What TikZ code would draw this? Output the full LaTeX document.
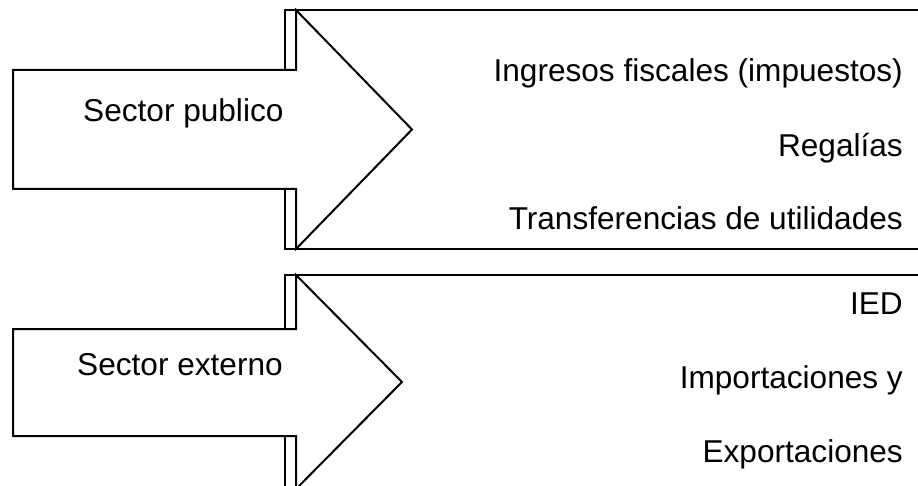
\documentclass[tikz,border=0pt]{standalone}
\usepackage{fontspec}
\setmainfont{Liberation Sans}
\begin{document}
\begin{tikzpicture}[x=1pt,y=-1pt,
  outline/.style={draw=black,line width=2pt,line join=miter,fill=white},
  frame/.style={draw=black,line width=2pt},
  txt/.style={font=\fontsize{31.6}{38}\selectfont,inner sep=0pt},
  ]
\useasboundingbox (0,0) rectangle (918,486);
\fill[white] (0,0) rectangle (918,486);
\clip (0,0) rectangle (918,486);

% --- public sector: list panel and block arrow
\draw[frame] (1000,10) -- (285,10) -- (285,249) -- (1000,249);
\draw[outline] (13,70) -- (296,70) -- (296,10) -- (412,129.5) -- (296,249)
  -- (296,189) -- (13,189) -- cycle;
\node[txt,anchor=base west] (pub) at (83,122) {Sector publico};
\node[txt,anchor=base east] (ing) at (903,82) {Ingresos fiscales (impuestos)};
\node[txt,anchor=base east] (reg) at (903,157) {Regalías};
\node[txt,anchor=base east] (tra) at (903,230) {Transferencias de utilidades};

% --- external sector: list panel and block arrow
\draw[frame] (1000,275) -- (285,275) -- (285,489) -- (1000,489);
\draw[outline] (13,329) -- (296,329) -- (296,275) -- (402,382) -- (296,489)
  -- (296,436) -- (13,436) -- cycle;
\node[txt,anchor=base west] (ext) at (77,375) {Sector externo};
\node[txt,anchor=base east] (ied) at (903,315) {IED};
\node[txt,anchor=base east] (imp) at (903,388) {Importaciones y};
\node[txt,anchor=base east] (exp) at (903,462) {Exportaciones};
\end{tikzpicture}
\end{document}
